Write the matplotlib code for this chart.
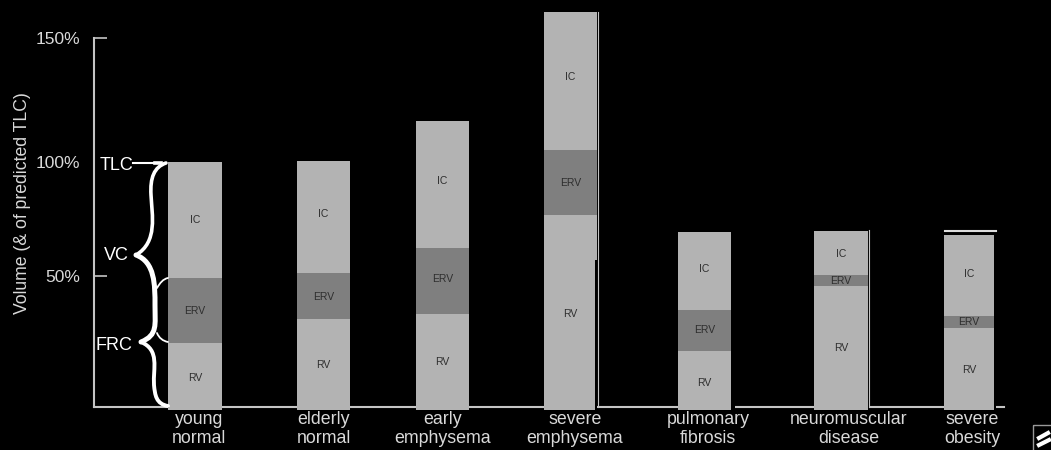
import matplotlib
matplotlib.use("Agg")
import matplotlib.pyplot as plt
from matplotlib.path import Path
from matplotlib.patches import PathPatch, Rectangle
from matplotlib.transforms import Affine2D

plt.rcParams['font.family'] = ['Liberation Sans', 'DejaVu Sans']

categories = ["young\nnormal", "elderly\nnormal", "early\nemphysema", "severe\nemphysema",
              "pulmonary\nfibrosis", "neuromuscular\ndisease", "severe\nobesity"]
rv = [26.1, 36.0, 38.0, 78.4, 22.9, 49.4, 32.2]
erv = [26.5, 18.8, 26.9, 26.5, 16.7, 4.5, 4.9]
ic = [47.3, 45.7, 51.8, 56.3, 32.0, 18.0, 33.2]
tick_values = [53.5, 100, 150.5]
tick_labels = ["50%", "100%", "150%"]

centers = [195, 323.5, 442.5, 570.5, 704.5, 841, 969]
widths = [54, 53, 53, 53, 53, 54, 50]
label_centers = [199, 324, 443, 575, 708, 849, 972]
# heights (in axis units) at which the part names sit in each bar
rv_label_y = [11.8, 17.1, 18.4, 38.0, 10.0, 24.0, 15.1]
erv_label_y = [39.2, 44.9, 52.2, 91.4, 31.4, 51.4, 34.7]
ic_label_y = [76.3, 78.8, 92.2, 134.7, 56.3, 62.4, 54.3]

light = "#b3b3b3"
dark = "#7f7f7f"
fg = "#d9d9d9"
line_col = "#c4c4c4"

fig = plt.figure(figsize=(10.51, 4.5), dpi=100, facecolor="black")
ax = fig.add_axes([94/1051, 43/450, 910/1051, 369/450], facecolor="black")
ax.set_xlim(94, 1004)
ax.set_ylim(0, 369/2.45)

bottom = [0]*7
for vals, col, name, ys in ((rv, light, "RV", rv_label_y), (erv, dark, "ERV", erv_label_y), (ic, light, "IC", ic_label_y)):
    ax.bar(centers, vals, widths, bottom=bottom, color=col, linewidth=0, clip_on=False, zorder=3)
    for c, y in zip(centers, ys):
        ax.text(c, y, name, ha="center", va="center", fontsize=7.5, color="#2e2e2e", zorder=4, clip_on=False)
    bottom = [b + v for b, v in zip(bottom, vals)]

for s in ("top", "right"):
    ax.spines[s].set_visible(False)
for s in ("left", "bottom"):
    ax.spines[s].set_color(line_col)
    ax.spines[s].set_linewidth(1.5)

ax.set_yticks(tick_values, tick_labels, fontsize=12.5, color=fg)
ax.tick_params(axis="y", direction="in", length=9.5, width=1.2, color=line_col, pad=10)
ax.yaxis.get_major_ticks()[1].tick1line.set_visible(False)
ax.set_xticks(label_centers, categories, fontsize=12.8, color=fg, linespacing=1.12)
ax.tick_params(axis="x", length=0, pad=3)
ax.set_ylabel("Volume (& of predicted TLC)", fontsize=12.7, color=fg, va="center")
ax.yaxis.set_label_coords((23-94)/910, (407-203.5)/369, transform=ax.transAxes)

# Annotations placed in image pixels
px = Affine2D().scale(1, -1).translate(0, 450)
for t, x, y in (("TLC", 117, 165), ("VC", 116, 256), ("FRC", 114, 345)):
    fig.text(x/1051, 1 - y/450, t, ha="center", va="center", fontsize=13, color="white")

def curve(points, lw):
    codes = [Path.MOVETO] + [Path.CURVE4] * (len(points) - 1)
    fig.add_artist(PathPatch(Path(points, codes), transform=px, fc="none", ec="white", lw=lw, capstyle="round"))

curve([(166, 163), (154, 167), (150, 178), (151, 195), (152, 215), (158, 242), (136, 255)], 2.6)
curve([(136, 255), (155, 262), (155, 285), (155, 305), (155, 325), (158, 335), (141, 342)], 3.6)
curve([(141, 342), (160, 350), (153, 368), (154, 385), (155, 395), (156, 404), (168, 406)], 2.8)
curve([(168, 278), (163, 279), (160, 283), (157, 288)], 1.3)
curve([(168, 342), (163, 341), (159, 338), (157, 333)], 1.3)
fig.add_artist(plt.Line2D([133, 158], [163, 163], transform=px, color="white", lw=1.5))
fig.add_artist(plt.Line2D([155, 161], [163, 163], transform=px, color="white", lw=2.6))
# line above the obesity bar
fig.add_artist(plt.Line2D([945, 996], [231, 231], transform=px, color="#dddddd", lw=1.5))

# scan artefacts: bars run slightly past the baseline, gaps and side lines
for c, w in zip(centers, widths):
    fig.add_artist(Rectangle((c - w/2, 407), w, 3, transform=px, fc=light, ec="none", zorder=5))
for x0, x1 in ((595, 597), (731, 735), (868, 869), (994, 996)):
    fig.add_artist(Rectangle((x0, 404), x1 - x0, 6, transform=px, fc="black", ec="none", zorder=5))
fig.add_artist(Rectangle((595, 260), 2, 150, transform=px, fc="black", ec="none", zorder=5))
fig.add_artist(plt.Line2D([598, 598], [12, 407], transform=px, color=line_col, lw=0.8, zorder=6))
fig.add_artist(plt.Line2D([869, 869], [230, 407], transform=px, color=line_col, lw=0.8, zorder=6))

# corner glyph
fig.add_artist(Rectangle((1033, 425), 24, 30, transform=px, fc="none", ec="#999999", lw=1))
fig.add_artist(plt.Line2D([1039, 1049], [445, 440], transform=px, color="white", lw=3))
fig.add_artist(plt.Line2D([1039, 1048], [438, 433], transform=px, color="white", lw=3))

fig.savefig("out.png", dpi=100, facecolor="black")
